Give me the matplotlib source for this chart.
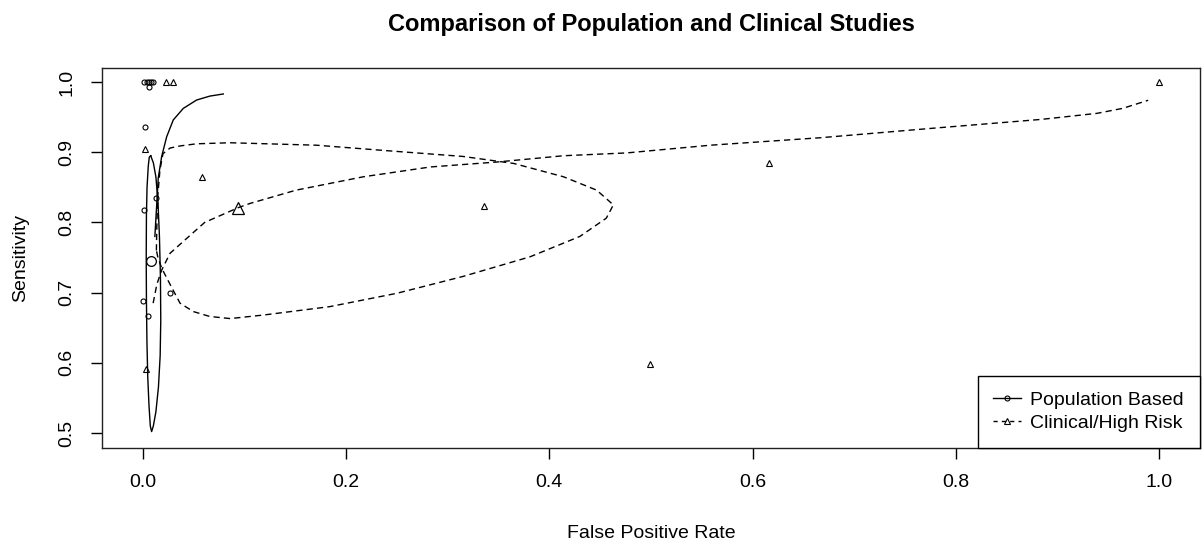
import matplotlib.pyplot as plt

plt.rcParams["font.family"] = ["Liberation Sans", "DejaVu Sans"]

# pontos dos estudos (FPR, sensibilidade)
pop_fpr = [0.0015, 0.004, 0.0065, 0.0085, 0.0098, 0.0062, 0.0023, 0.0013, 0.013, 0.0006, 0.0055, 0.0269]
pop_sens = [1.0, 1.0, 1.0, 1.0, 1.0, 0.9925, 0.936, 0.818, 0.835, 0.688, 0.667, 0.699]

clin_fpr = [0.023, 0.030, 0.002, 0.058, 0.336, 0.6156, 0.499, 1.0, 0.003]
clin_sens = [1.0, 1.0, 0.905, 0.864, 0.823, 0.884, 0.598, 1.0, 0.591]

# estimativas resumo
pop_summary_fpr, pop_summary_sens = 0.0082, 0.745
clin_summary_fpr, clin_summary_sens = 0.094, 0.821

# curvas SROC
pop_sroc_fpr = [0.0120, 0.0140, 0.0153, 0.0187, 0.0236, 0.0301, 0.040, 0.0531, 0.0662, 0.0793]
pop_sroc_sens = [0.780, 0.830, 0.863, 0.894, 0.922, 0.946, 0.9625, 0.9744, 0.980, 0.983]

clin_sroc_fpr = [0.0103, 0.0140, 0.0187, 0.0269, 0.0416, 0.061, 0.094, 0.1055, 0.151, 0.217,
                 0.283, 0.348, 0.414, 0.476, 0.5585, 0.667, 0.7757, 0.884, 0.9387, 0.964, 0.989]
clin_sroc_sens = [0.685, 0.712, 0.732, 0.756, 0.775, 0.800, 0.821, 0.827, 0.846, 0.865,
                  0.879, 0.886, 0.895, 0.899, 0.910, 0.9207, 0.934, 0.9468, 0.9554, 0.9625, 0.974]

# regioes de confianca
pop_ell_fpr = [0.0079, 0.0105, 0.0130, 0.0150, 0.0165, 0.0175, 0.0178, 0.0172, 0.0155, 0.0130,
               0.0105, 0.0088, 0.0075, 0.0062, 0.0050, 0.0042, 0.0037, 0.0035, 0.0037, 0.0043,
               0.0055, 0.0065, 0.0079]
pop_ell_sens = [0.895, 0.885, 0.865, 0.830, 0.780, 0.720, 0.660, 0.610, 0.565, 0.530,
                0.510, 0.502, 0.510, 0.540, 0.580, 0.630, 0.690, 0.750, 0.810, 0.850,
                0.880, 0.893, 0.895]

clin_ell_fpr = [0.0135, 0.0140, 0.0150, 0.0170, 0.020, 0.027, 0.037, 0.053, 0.086, 0.171,
                0.233, 0.315, 0.365, 0.414, 0.4465, 0.463, 0.456, 0.430, 0.381, 0.315,
                0.250, 0.184, 0.1186, 0.086, 0.066, 0.0498, 0.0367, 0.0236, 0.0187, 0.0150,
                0.0135]
clin_ell_sens = [0.760, 0.800, 0.840, 0.875, 0.898, 0.906, 0.909, 0.912, 0.9135, 0.910,
                 0.903, 0.894, 0.884, 0.865, 0.846, 0.825, 0.806, 0.780, 0.751, 0.723,
                 0.699, 0.680, 0.668, 0.663, 0.666, 0.673, 0.685, 0.721, 0.735, 0.750,
                 0.760]

xticks = [0.0, 0.2, 0.4, 0.6, 0.8, 1.0]
xtick_labels = ["0.0", "0.2", "0.4", "0.6", "0.8", "1.0"]
yticks = [0.5, 0.6, 0.7, 0.8, 0.9, 1.0]
ytick_labels = ["0.5", "0.6", "0.7", "0.8", "0.9", "1.0"]

fig = plt.figure(figsize=(12.04, 5.44), dpi=100)
ax = fig.add_axes([102 / 1204, 1 - 448 / 544, 1098 / 1204, 380 / 544])

lw = 1.0
dash = (0, (4.5, 3))

# curvas e elipses
ax.plot(pop_sroc_fpr, pop_sroc_sens, color="black", lw=lw)
ax.plot(pop_ell_fpr, pop_ell_sens, color="black", lw=lw)
ax.plot(clin_sroc_fpr, clin_sroc_sens, color="black", lw=lw, linestyle=dash)
ax.plot(clin_ell_fpr, clin_ell_sens, color="black", lw=lw, linestyle=dash)

# pontos dos estudos
ax.plot(pop_fpr, pop_sens, "o", ms=3.6, mfc="none", mec="black", mew=0.8)
ax.plot(clin_fpr, clin_sens, "^", ms=4.2, mfc="none", mec="black", mew=0.8)

# pontos resumo (maiores)
ax.plot(pop_summary_fpr, pop_summary_sens, "o", ms=7, mfc="none", mec="black", mew=0.9)
ax.plot(clin_summary_fpr, clin_summary_sens, "^", ms=9, mfc="none", mec="black", mew=0.9)

ax.set_xlim(-0.04, 1.04)
ax.set_ylim(0.4786, 1.02)
ax.set_xticks(xticks, labels=xtick_labels)
ax.set_yticks(yticks, labels=ytick_labels)
ax.tick_params(axis="both", direction="out", length=8, width=1, labelsize=14, pad=11)
ax.tick_params(axis="y", labelrotation=90)
for lab in ax.get_yticklabels():
    lab.set_va("center")
for sp in ax.spines.values():
    sp.set_linewidth(1.0)
    sp.set_color("#222222")

ax.set_title("Comparison of Population and Clinical Studies", fontsize=17,
             fontweight="bold", pad=27)
ax.set_xlabel("False Positive Rate", fontsize=14)
ax.set_ylabel("Sensitivity", fontsize=14)
ax.xaxis.set_label_coords(0.5, -0.224)
ax.xaxis.label.set_va("center")
ax.yaxis.set_label_coords(-0.074, 0.5)
ax.yaxis.label.set_va("center")

# legenda
h1, = ax.plot([], [], color="black", lw=lw, marker="o", ms=3.6, mfc="none", mew=0.8)
h2, = ax.plot([], [], color="black", lw=lw, linestyle=(0, (3, 3)), marker="^", ms=5,
              mfc="none", mew=0.8)
leg = ax.legend([h1, h2], ["Population Based", "Clinical/High Risk"], loc="lower right",
                bbox_to_anchor=(1, 0), borderaxespad=0, fontsize=14, fancybox=False,
                framealpha=1, edgecolor="black", numpoints=1, handlelength=1.4,
                handletextpad=0.5, labelspacing=0.27, borderpad=0.82)
leg.get_frame().set_linewidth(1.0)

fig.savefig("out.png", dpi=100)
